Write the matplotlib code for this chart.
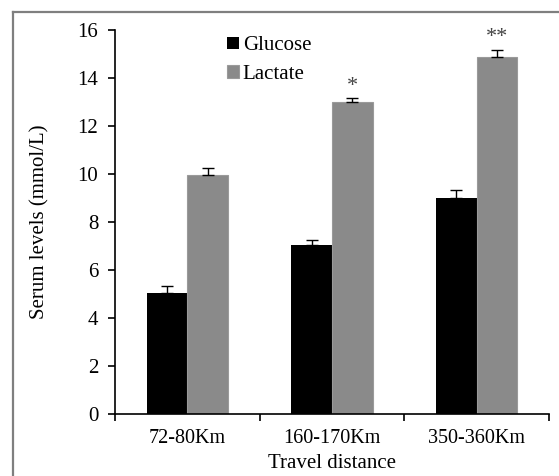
import numpy as np
import matplotlib.pyplot as plt
from matplotlib.lines import Line2D

# data
categories = ["72-80Km", "160-170Km", "350-360Km"]
glucose = [5.05, 7.05, 9.0]
glucose_err = [0.3, 0.2, 0.35]
lactate = [9.97, 13.0, 14.87]
lactate_err = [0.3, 0.15, 0.3]
stars = ["", "*", "**"]

plt.rcParams["font.family"] = ["Liberation Serif", "DejaVu Serif"]

fig = plt.figure(figsize=(5.59, 4.76), dpi=100)
ax = fig.add_axes([115 / 559, 1 - 414 / 476, (549 - 115) / 559, (414 - 30) / 476])

# frame around the figure (only top and left edges show)
fx, fy = 13 / 559, 1 - 12 / 476
fig.add_artist(Line2D([fx, 1], [fy, fy], transform=fig.transFigure, color="#7f7f7f", linewidth=1.6))
fig.add_artist(Line2D([fx, fx], [0, fy], transform=fig.transFigure, color="#7f7f7f", linewidth=1.6))

x = np.arange(len(categories))
w = 0.28
ax.bar(x - w / 2, glucose, w, color="black", label="Glucose", zorder=2)
ax.bar(x + w / 2, lactate, w, color="#8a8a8a", edgecolor="#9a9a9a", linewidth=0.8,
       label="Lactate", zorder=2)
ax.errorbar(x - w / 2, glucose, yerr=[np.zeros(3), glucose_err], fmt="none",
            ecolor="black", elinewidth=1, capsize=4, capthick=1, zorder=3)
ax.errorbar(x + w / 2, lactate, yerr=[np.zeros(3), lactate_err], fmt="none",
            ecolor="black", elinewidth=1, capsize=4, capthick=1, zorder=3)

for xi, v, e, s in zip(x, lactate, lactate_err, stars):
    if s:
        ax.text(xi + w / 2, v + e + 0.5, s, ha="center", va="center", fontsize=16,
                color="#444444", clip_on=False)

ax.set_xlim(-0.5, 2.5)
ax.set_ylim(0, 16)
ax.set_yticks(range(0, 17, 2))
ax.set_xticks(x)
ax.set_xticklabels(categories)
ax.set_xticks([-0.5, 0.5, 1.5, 2.5], minor=True)
ax.tick_params(axis="x", which="major", length=0, labelsize=14.5, pad=11)
ax.tick_params(axis="x", which="minor", length=5, width=1.2, direction="out")
ax.tick_params(axis="y", length=5, width=1.2, labelsize=15, pad=7)

for side in ["top", "right"]:
    ax.spines[side].set_visible(False)
for side in ["left", "bottom"]:
    ax.spines[side].set_linewidth(1.2)

ax.set_xlabel("Travel distance", fontsize=15, labelpad=4)
ax.set_ylabel("Serum levels (mmol/L)", fontsize=15, labelpad=20)

ax.legend(loc="upper left", bbox_to_anchor=(0.215, 1.032), frameon=False, fontsize=15,
          handlelength=0.55, handleheight=0.55, handletextpad=0.2, labelspacing=0.45)

fig.savefig("out.png", dpi=100)
